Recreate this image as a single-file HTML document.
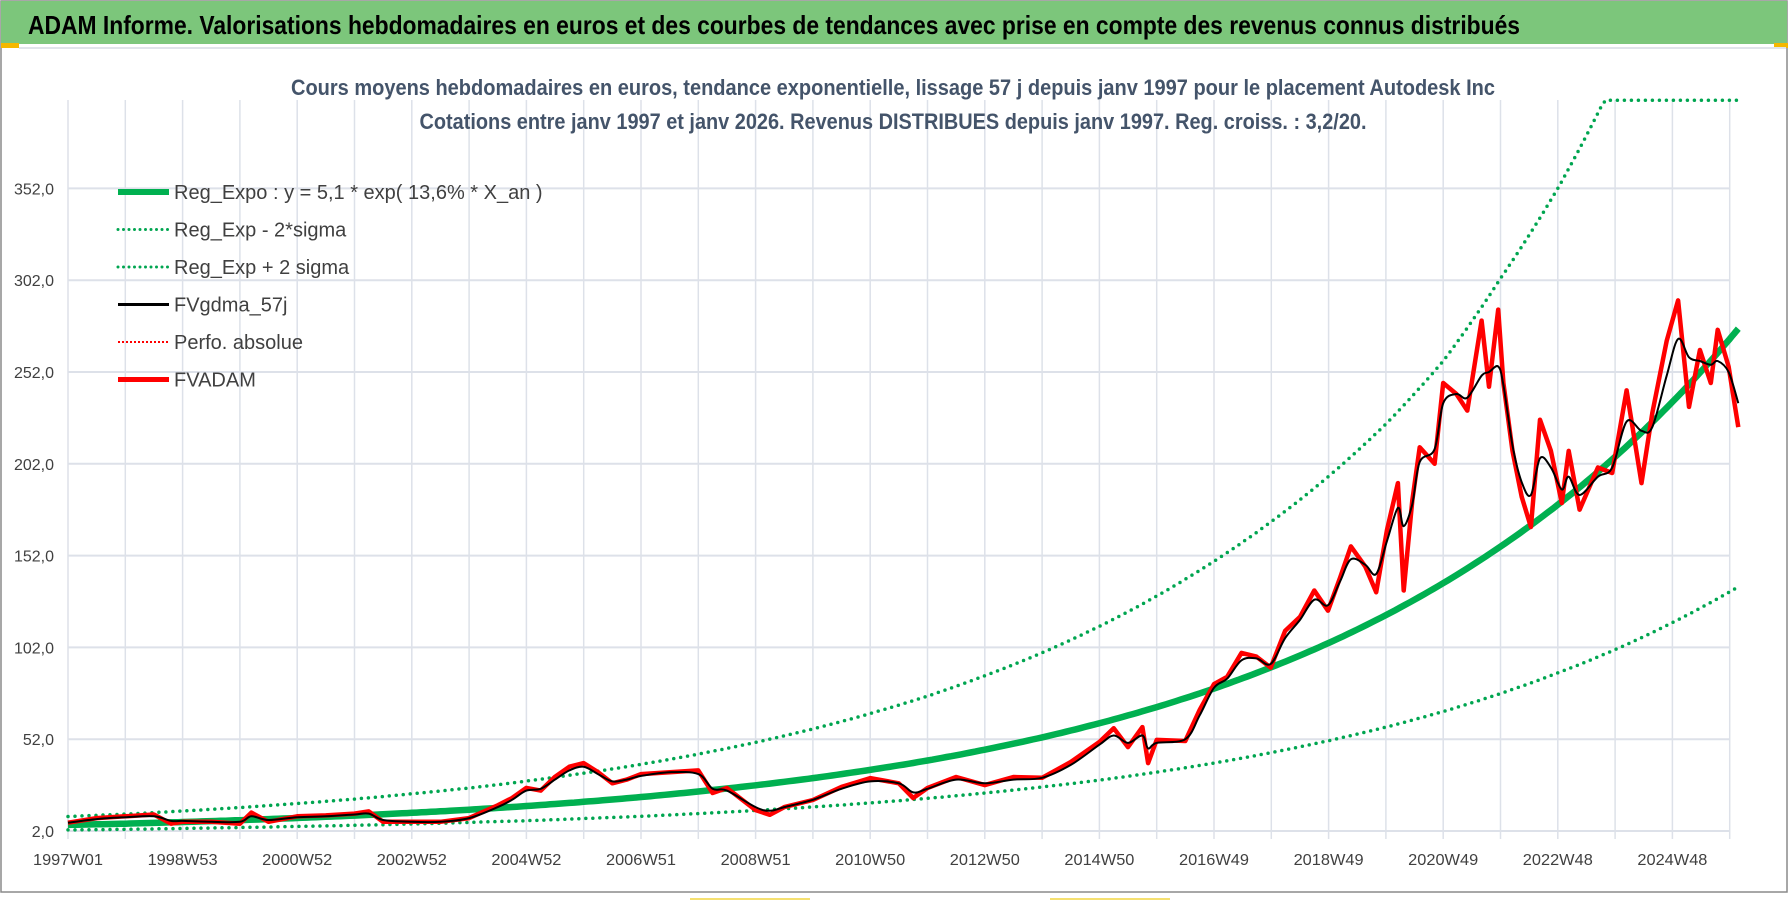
<!DOCTYPE html>
<html><head><meta charset="utf-8"><style>
html,body{margin:0;padding:0;background:#fff;}
svg{display:block;font-family:"Liberation Sans",sans-serif;}
</style></head><body>
<svg id="chart" width="1790" height="912" viewBox="0 0 1790 912">
<rect x="0" y="0" width="1790" height="912" fill="#fff"/>
<rect x="1" y="1" width="1786" height="891" fill="none" stroke="#8a8a8a" stroke-width="1.5"/>
<rect x="1" y="1" width="1786" height="43" fill="#7cc67b"/>
<rect x="1" y="43" width="18" height="5" fill="#f5b800"/>
<rect x="1774" y="43" width="14" height="5" fill="#f5b800"/>
<line x1="19" y1="48" x2="1786" y2="48" stroke="#e0e4ea" stroke-width="2"/>
<text x="28" y="34" font-size="26" font-weight="bold" fill="#000" textLength="1492" lengthAdjust="spacingAndGlyphs">ADAM Informe. Valorisations hebdomadaires en euros et des courbes de tendances avec prise en compte des revenus connus distribués</text>
<g id="grid"></g>
<text x="893" y="95" font-size="22" font-weight="bold" fill="#44546a" text-anchor="middle" textLength="1204" lengthAdjust="spacingAndGlyphs">Cours moyens hebdomadaires en euros, tendance exponentielle, lissage 57 j depuis janv 1997 pour le placement Autodesk Inc</text>
<text x="893" y="129" font-size="22" font-weight="bold" fill="#44546a" text-anchor="middle" textLength="947" lengthAdjust="spacingAndGlyphs">Cotations entre janv 1997 et janv 2026. Revenus DISTRIBUES depuis janv 1997. Reg. croiss. : 3,2/20.</text>
<g id="series"></g>
<g id="legend"></g>
<rect x="690" y="898" width="120" height="2" fill="#f5e070"/>
<rect x="1050" y="898" width="120" height="2" fill="#f5e070"/>
</svg>
<script>
// ---- data ----
const yTicks = [2,52,102,152,202,252,302,352];
const yTickLabels = ["2,0","52,0","102,0","152,0","202,0","252,0","302,0","352,0"];
const xTickYears = [0,2,4,6,8,10,12,14,16,18,20,22,24,26,28];
const xTickLabels = ["1997W01","1998W53","2000W52","2002W52","2004W52","2006W51","2008W51","2010W50","2012W50","2014W50","2016W49","2018W49","2020W49","2022W48","2024W48"];
const regYears = [0,1,2,3,4,5,6,7,8,9,10,11,12,13,14,15,16,17,18,19,20,21,22,23,24,25,26,27,28,29,29.15];
const regExpo = [5.3,6.0,6.9,7.9,9.1,10.4,11.9,13.6,15.6,17.9,20.5,23.5,26.9,30.8,35.3,40.4,46.3,53.0,60.7,69.5,79.6,91.2,104.4,119.6,137,156.9,179.7,205.8,235.7,270,275.6];
const regMinus = [2.6,2.9,3.4,3.9,4.5,5.1,5.8,6.7,7.6,8.8,10,11.5,13.2,15.1,17.3,19.8,22.7,26,29.7,34.1,39,44.7,51.2,58.6,67.1,76.9,88.1,100.8,115.5,132.3,135];
const regPlus = [9.9,11.2,12.9,14.8,17.0,19.4,22.3,25.4,29.2,33.5,38.3,43.9,50.3,57.6,66.0,75.5,86.6,99.1,113.5,130,148.9,170.5,195.2,223.7,258,303,352,412,480,560,575];
const pxYears = [0,0.5,1,1.5,1.8,2,2.5,3,3.2,3.5,4,4.5,5,5.25,5.5,6,6.5,7,7.5,7.75,8,8.25,8.5,8.75,9,9.25,9.5,9.75,10,10.5,11,11.25,11.5,12,12.25,12.5,13,13.5,14,14.5,14.75,15,15.5,16,16.5,17,17.5,18,18.25,18.5,18.75,18.85,19,19.5,19.75,20,20.23,20.48,20.74,20.99,21.24,21.5,21.75,21.99,22.2,22.39,22.64,22.83,23.02,23.21,23.31,23.46,23.59,23.85,24.0,24.23,24.42,24.67,24.8,24.96,25.05,25.21,25.37,25.53,25.69,25.88,26.07,26.19,26.38,26.7,26.95,27.2,27.46,27.65,27.9,28.1,28.29,28.48,28.67,28.79,28.98,29.15];
const fvadam = [6.5,9,10,11,6,7,7,6,12,7,10,10.5,11.5,12.7,7,7,7,9,16,20,25.5,24,31.5,37,39,34,28,30,33,34,35,22.7,25.4,13.4,10.8,15,18.9,26,30.8,28,20,25.4,31.4,27,31.4,31,39.6,50.5,58,47.7,58.6,39,51.6,51,68,82,86,99,97,91,111,118.6,133,122,140,157,146,132,166,191.5,133,182,211,202,246,240,231,280,244,286,246,209,184,167.6,226,209,180.6,209,177,200,197,242,191.5,229.6,269,291,233,264,246,275,255,222];
const fvgdma = [6.5,8.5,9.5,10,7.5,7.5,7,7,10,8,9.5,10,11,11.5,8,7,7,9,15,19,24,25,30,35,37,33,29,30,32,34,33,25,24,15,13,15,19,25,29,28,23,25,30,28,30,31,38,49,54,50,54,47,50,52,65,80,85,95,96,93,107,117,128,125,138,150,147,142,160,178,168,180,203,210,235,240,238,250,252,255,245,212,192,185,205,200,188,195,185,195,200,225,220,222,250,270,260,258,256,258,252,235];
// ---- axes ----
const X0 = 68, XPY = 57.3, Y0 = 831, PPU = 1.836, YMAX = 400;
function xs(t){ return X0 + t*XPY; }
function ys(v){ return Y0 - (Math.min(v,YMAX)-2)*PPU; }
const NS = "http://www.w3.org/2000/svg";
function mk(tag, attrs, parent){ const e=document.createElementNS(NS,tag); for(const k in attrs) e.setAttribute(k,attrs[k]); parent.appendChild(e); return e; }
const grid = document.getElementById('grid');
for (let k=0;k<=29;k++){
  const l = mk('line',{x1:xs(k),x2:xs(k),y1:100,y2:Y0+8,stroke:'#dde1e9','stroke-width':1.5},grid);
  
  
}
yTicks.forEach((v,i)=>{
  const l = mk('line',{x1:X0,x2:xs(29),y1:ys(v),y2:ys(v),stroke:'#dde1e9','stroke-width':2},grid);
  
  
  const t = mk('text',{x:54,y:ys(v)+6,'font-size':16,fill:'#404040','text-anchor':'end'},grid);
  t.textContent = yTickLabels[i];
  
  
});
xTickYears.forEach((yr,i)=>{
  const t = mk('text',{x:xs(yr),y:865,'font-size':16,fill:'#404040','text-anchor':'middle',textLength:70,lengthAdjust:'spacingAndGlyphs'},grid);
  t.textContent = xTickLabels[i];
  
  
});
const series = document.getElementById('series');
function expoPath(xsArr, vals){
  let d='';
  for(let i=0;i<xsArr.length-1;i++){
    const n=12;
    for(let j=(i?1:0);j<=n;j++){
      const f=j/n;
      const t=xsArr[i]+(xsArr[i+1]-xsArr[i])*f;
      const v=vals[i]*Math.pow(vals[i+1]/vals[i],f);
      d+=(d?' L':'M')+xs(t).toFixed(1)+','+ys(v).toFixed(1);
    }
  }
  return d;
}
function smoothPath(xsArr, vals){
  const P = xsArr.map((t,i)=>[xs(t),ys(vals[i])]);
  let d = 'M'+P[0][0].toFixed(1)+','+P[0][1].toFixed(1);
  for(let i=0;i<P.length-1;i++){
    const p0=P[Math.max(0,i-1)],p1=P[i],p2=P[i+1],p3=P[Math.min(P.length-1,i+2)];
    const c1=[p1[0]+(p2[0]-p0[0])/6,p1[1]+(p2[1]-p0[1])/6];
    const c2=[p2[0]-(p3[0]-p1[0])/6,p2[1]-(p3[1]-p1[1])/6];
    d+=' C'+c1[0].toFixed(1)+','+c1[1].toFixed(1)+' '+c2[0].toFixed(1)+','+c2[1].toFixed(1)+' '+p2[0].toFixed(1)+','+p2[1].toFixed(1);
  }
  return d;
}
function linePath(xsArr, vals){
  return xsArr.map((t,i)=>(i?'L':'M')+xs(t).toFixed(1)+','+ys(vals[i]).toFixed(1)).join(' ');
}
const pPlus = mk('path',{d:expoPath(regYears,regPlus),fill:'none',stroke:'#00a550','stroke-width':3.5,'stroke-dasharray':'0 7','stroke-linecap':'round'},series);


const pMinus = mk('path',{d:expoPath(regYears,regMinus),fill:'none',stroke:'#00a550','stroke-width':3.5,'stroke-dasharray':'0 7','stroke-linecap':'round'},series);


const pReg = mk('path',{d:expoPath(regYears,regExpo),fill:'none',stroke:'#00b050','stroke-width':6.5},series);


const pRed = mk('path',{d:linePath(pxYears,fvadam),fill:'none',stroke:'#ff0000','stroke-width':4.5,'stroke-linejoin':'round'},series);


const pBlk = mk('path',{d:smoothPath(pxYears,fvgdma),fill:'none',stroke:'#000','stroke-width':2},series);


// legend
const legendLabels = ["Reg_Expo : y = 5,1 * exp( 13,6% *  X_an )","Reg_Exp - 2*sigma","Reg_Exp + 2 sigma","FVgdma_57j","Perfo. absolue","FVADAM"];
const legendColors = ['#00b050','#00a550','#00a550','#000','#ff0000','#ff0000'];
const legendWidths = [6,3,3,3,2,5];
const legendDash = ['', '0 5.5','0 5.5','','2 2',''];
const lg = document.getElementById('legend');
legendLabels.forEach((lab,i)=>{
  const y = 192 + i*37.5;
  const g = mk('g',{},lg);
  
  
  const a = {x1:118,x2:169,y1:y,y2:y,stroke:legendColors[i],'stroke-width':legendWidths[i]};
  if(legendDash[i]){a['stroke-dasharray']=legendDash[i]; if(i<3)a['stroke-linecap']='round';}
  mk('line',a,g);
  const t = mk('text',{x:174,y:y+7,'font-size':20,fill:'#404040'},g);
  t.textContent = lab;
});
</script>
</body></html>
